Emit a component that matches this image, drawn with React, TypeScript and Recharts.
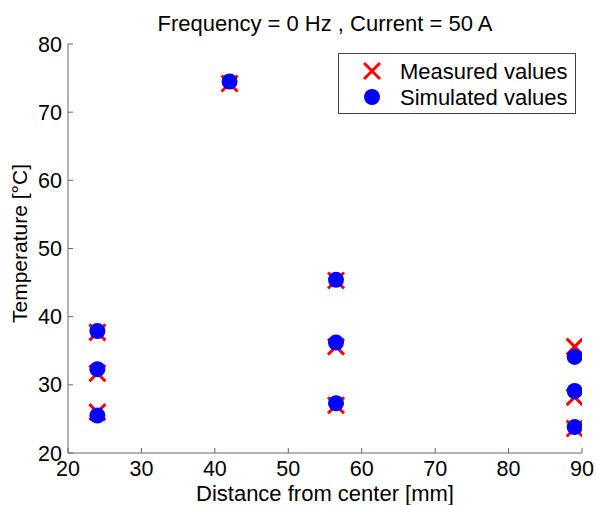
import { ScatterChart, Scatter, XAxis, YAxis, Legend } from 'recharts'

const FONT = '"Liberation Sans", Arial, sans-serif'
const AXIS_COLOR = '#666666'

const distances = [24, 24, 24, 42, 56.5, 56.5, 56.5, 89, 89, 89]
const measuredTemps = [37.7, 31.7, 26.0, 74.2, 45.3, 35.6, 27.0, 35.6, 28.2, 23.6]
const simulatedTemps = [37.9, 32.3, 25.5, 74.5, 45.4, 36.2, 27.3, 34.1, 29.1, 23.8]

const xTicks = [20, 30, 40, 50, 60, 70, 80, 90]
const yTicks = [20, 30, 40, 50, 60, 70, 80]

const measured = distances.map((d, i) => ({ x: d, y: measuredTemps[i] }))
const simulated = distances.map((d, i) => ({ x: d, y: simulatedTemps[i] }))

const TICK_MARGIN_X = 8
const TICK_MARGIN_Y = 6
const TICK_LEN = 5
const TICK_FONT = 21.5
const LABEL_FONT = 22

const CrossShape = (props: any) => {
  const { cx, cy } = props
  const s = 8
  return (
    <g stroke="#ff0000" strokeWidth={3}>
      <line x1={cx - s} y1={cy - s} x2={cx + s} y2={cy + s} />
      <line x1={cx - s} y1={cy + s} x2={cx + s} y2={cy - s} />
    </g>
  )
}

const DotShape = (props: any) => {
  const { cx, cy } = props
  return <circle cx={cx} cy={cy} r={8} fill="#0000ff" />
}

const XTick = (props: any) => {
  const { x, y, payload } = props
  const axisY = y - TICK_MARGIN_X
  return (
    <g>
      <line x1={x} y1={axisY} x2={x} y2={axisY - TICK_LEN} stroke={AXIS_COLOR} />
      <text x={x} y={y} dy="0.7em" textAnchor="middle" fontSize={TICK_FONT} fontFamily={FONT} fill="#000">
        {payload.value}
      </text>
    </g>
  )
}

const YTick = (props: any) => {
  const { x, y, payload } = props
  const axisX = x + TICK_MARGIN_Y
  return (
    <g>
      <line x1={axisX} y1={y} x2={axisX + TICK_LEN} y2={y} stroke={AXIS_COLOR} />
      <text x={x} y={y} dy="0.35em" textAnchor="end" fontSize={TICK_FONT} fontFamily={FONT} fill="#000">
        {payload.value}
      </text>
    </g>
  )
}

const LegendBox = () => (
  <svg width={238} height={61} style={{ display: 'block' }}>
    <rect x={0.5} y={0.5} width={237} height={60} fill="#fff" stroke="#444" />
    <g stroke="#ff0000" strokeWidth={3}>
      <line x1={26} y1={10} x2={42} y2={26} />
      <line x1={26} y1={26} x2={42} y2={10} />
    </g>
    <circle cx={34} cy={44} r={8} fill="#0000ff" />
    <text x={62} y={18} dy="0.35em" fontSize={LABEL_FONT} fontFamily={FONT} fill="#000">Measured values</text>
    <text x={62} y={44} dy="0.35em" fontSize={LABEL_FONT} fontFamily={FONT} fill="#000">Simulated values</text>
  </svg>
)

export default function App() {
  return (
    <div style={{ position: 'absolute', left: 0, top: 0, width: 596, height: 505, background: '#fff' }}>
      <div
        style={{
          position: 'absolute',
          left: 0,
          width: 650,
          top: 13,
          textAlign: 'center',
          fontFamily: FONT,
          fontSize: LABEL_FONT,
          lineHeight: '22px',
          color: '#000',
          whiteSpace: 'nowrap',
        }}
      >
        Frequency = 0 Hz , Current = 50 A
      </div>
      <ScatterChart width={596} height={505} margin={{ top: 44, right: 14, bottom: 0, left: 0 }}>
        <XAxis
          type="number"
          dataKey="x"
          domain={[20, 90]}
          ticks={xTicks}
          interval={0}
          height={52}
          tickSize={0}
          tickMargin={TICK_MARGIN_X}
          tick={<XTick />}
          stroke={AXIS_COLOR}
          allowDataOverflow
          label={{
            value: 'Distance from center [mm]',
            position: 'insideBottom',
            offset: 4,
            fontSize: LABEL_FONT,
            fontFamily: FONT,
            fill: '#000',
          }}
        />
        <YAxis
          type="number"
          dataKey="y"
          domain={[20, 80]}
          ticks={yTicks}
          interval={0}
          width={68}
          tickSize={0}
          tickMargin={TICK_MARGIN_Y}
          tick={<YTick />}
          stroke={AXIS_COLOR}
          allowDataOverflow
          label={{
            content: (p: any) => {
              const vb = p.viewBox
              const cx = vb.x + 20
              const cy = vb.y + vb.height / 2 - 5
              return (
                <text
                  x={cx}
                  y={cy}
                  dy="0.35em"
                  textAnchor="middle"
                  transform={`rotate(-90 ${cx} ${cy})`}
                  fontSize={21}
                  fontFamily={FONT}
                  fill="#000"
                >
                  Temperature [°C]
                </text>
              )
            },
          }}
        />
        <Legend
          layout="horizontal"
          verticalAlign="middle"
          align="center"
          content={<LegendBox />}
          wrapperStyle={{ position: 'absolute', left: 338, top: 53, width: 238, height: 61 }}
        />
        <Scatter name="Measured values" data={measured} shape={<CrossShape />} isAnimationActive={false} />
        <Scatter name="Simulated values" data={simulated} shape={<DotShape />} isAnimationActive={false} />
      </ScatterChart>
    </div>
  )
}
